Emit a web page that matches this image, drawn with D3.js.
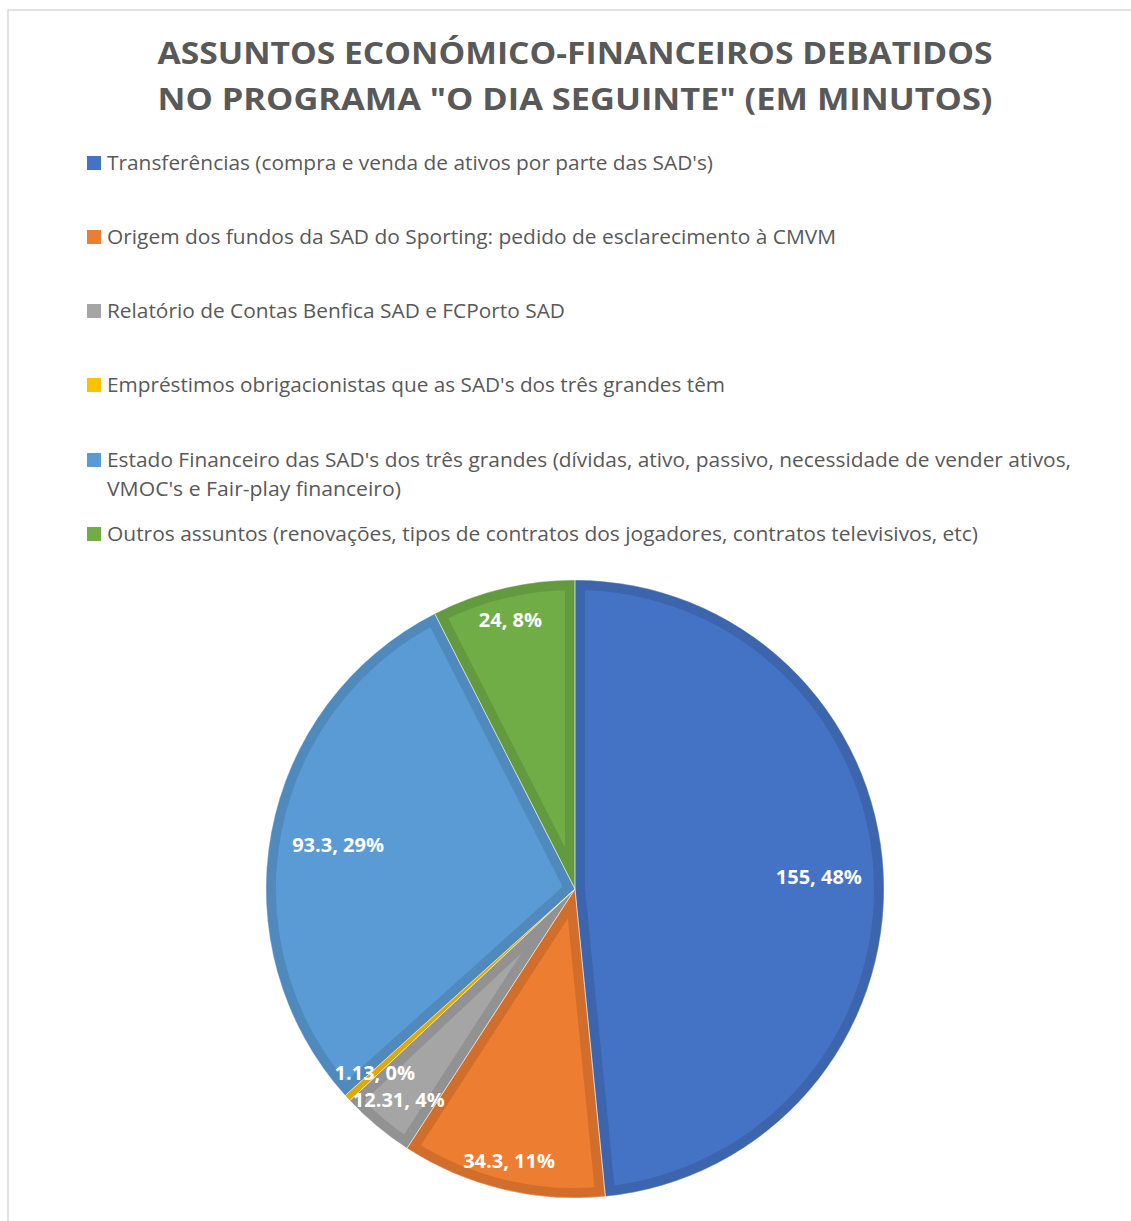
<!DOCTYPE html>
<html>
<head>
<meta charset="utf-8">
<script src="https://cdn.jsdelivr.net/npm/d3@7"></script>
<style>
  body { margin: 0; background: #fff; }
  svg { display: block; font-family: "Open Sans", "Noto Sans", sans-serif; }
</style>
</head>
<body>
<div id="wrapper"></div>
<script>
// Data
const categories = [
  "Transferências (compra e venda de ativos por parte das SAD's)",
  "Origem dos fundos da SAD do Sporting: pedido de esclarecimento à CMVM",
  "Relatório de Contas Benfica SAD e FCPorto SAD",
  "Empréstimos obrigacionistas que as SAD's dos três grandes têm",
  "Estado Financeiro das SAD's dos três grandes (dívidas, ativo, passivo, necessidade de vender ativos, VMOC's e Fair-play financeiro)",
  "Outros assuntos (renovações, tipos de contratos dos jogadores, contratos televisivos, etc)"
];
const minutes = [155, 34.3, 12.31, 1.13, 93.3, 24];
const percents = [48, 11, 4, 0, 29, 8]; // as printed on the chart
const titleLines = ["ASSUNTOS ECONÓMICO-FINANCEIROS DEBATIDOS", "NO PROGRAMA \"O DIA SEGUINTE\" (EM MINUTOS)"];

// Styling
const colors = ["#4472C4", "#ED7D31", "#A5A5A5", "#FFC000", "#5B9BD5", "#70AD47"];
const labelRadius = [0.79, 0.905, 0.89, 0.88, 0.78, 0.895];
// wrapped legend lines
const legendLines = [
  [categories[0]],
  [categories[1]],
  [categories[2]],
  [categories[3]],
  ["Estado Financeiro das SAD's dos três grandes (dívidas, ativo, passivo, necessidade de vender ativos,", "VMOC's e Fair-play financeiro)"],
  [categories[5]]
];
const legendWidths = [
  [606],
  [729],
  [458],
  [618],
  [964, 294],
  [871]
];

const width = 1131, height = 1221;
const svg = d3.select("#wrapper").append("svg")
  .attr("width", width)
  .attr("height", height);

// chart frame (extends past the viewport)
svg.append("rect")
  .attr("x", 8).attr("y", 10)
  .attr("width", width + 20).attr("height", height + 20)
  .attr("fill", "#fff")
  .attr("stroke", "#d9d9d9")
  .attr("stroke-width", 1.5);

// title
svg.append("g").selectAll("text")
  .data(titleLines)
  .join("text")
  .attr("x", 575)
  .attr("y", (d, i) => 64 + i * 46)
  .attr("text-anchor", "middle")
  .attr("fill", "#595959")
  .attr("font-weight", "bold")
  .attr("font-size", 31)
  .attr("textLength", 835)
  .attr("lengthAdjust", "spacingAndGlyphs")
  .text(d => d);

// legend
const legend = svg.append("g");
const rowY = [163, 237, 311, 385, 460, 534];
categories.forEach((c, i) => {
  const g = legend.append("g").attr("transform", `translate(0,${rowY[i]})`);
  g.append("rect")
    .attr("x", 87).attr("y", -7)
    .attr("width", 14).attr("height", 14)
    .attr("fill", colors[i]);
  legendLines[i].forEach((line, j) => {
    g.append("text")
      .attr("x", 107)
      .attr("y", 7 + j * 29)
      .attr("fill", "#595959")
      .attr("font-size", 20)
      .attr("textLength", legendWidths[i][j])
      .attr("lengthAdjust", "spacingAndGlyphs")
      .text(line);
  });
});

// pie
const cx = 575, cy = 889, r = 309;
const pie = d3.pie().sort(null).value(d => d);
const arcs = pie(minutes);
const arc = d3.arc().innerRadius(0).outerRadius(r);

const pieG = svg.append("g").attr("transform", `translate(${cx},${cy})`);
const defs = svg.append("defs");

arcs.forEach((a, i) => {
  defs.append("clipPath").attr("id", "clip" + i)
    .append("path").attr("d", arc(a));
  const col = d3.color(colors[i]).darker(0.35);
  pieG.append("path")
    .attr("d", arc(a))
    .attr("fill", colors[i])
    .attr("stroke", col)
    .attr("stroke-width", 20)
    .attr("stroke-linejoin", "miter")
    .attr("clip-path", `url(#clip${i})`);
});

// thin white separators
pieG.selectAll("path.sep")
  .data(arcs)
  .join("path")
  .attr("class", "sep")
  .attr("d", arc)
  .attr("fill", "none")
  .attr("stroke", "#fff")
  .attr("stroke-opacity", 0.5)
  .attr("stroke-width", 0.8);

// data labels
pieG.selectAll("text.lbl")
  .data(arcs)
  .join("text")
  .attr("class", "lbl")
  .attr("transform", (d, i) => {
    const la = d3.arc().innerRadius(r * labelRadius[i]).outerRadius(r * labelRadius[i]);
    return `translate(${la.centroid(d)})`;
  })
  .attr("text-anchor", "middle")
  .attr("dy", "0.35em")
  .attr("fill", "#fff")
  .attr("font-weight", "bold")
  .attr("font-size", 20)
  .text((d, i) => `${d.data}, ${percents[i]}%`);
</script>
</body>
</html>
